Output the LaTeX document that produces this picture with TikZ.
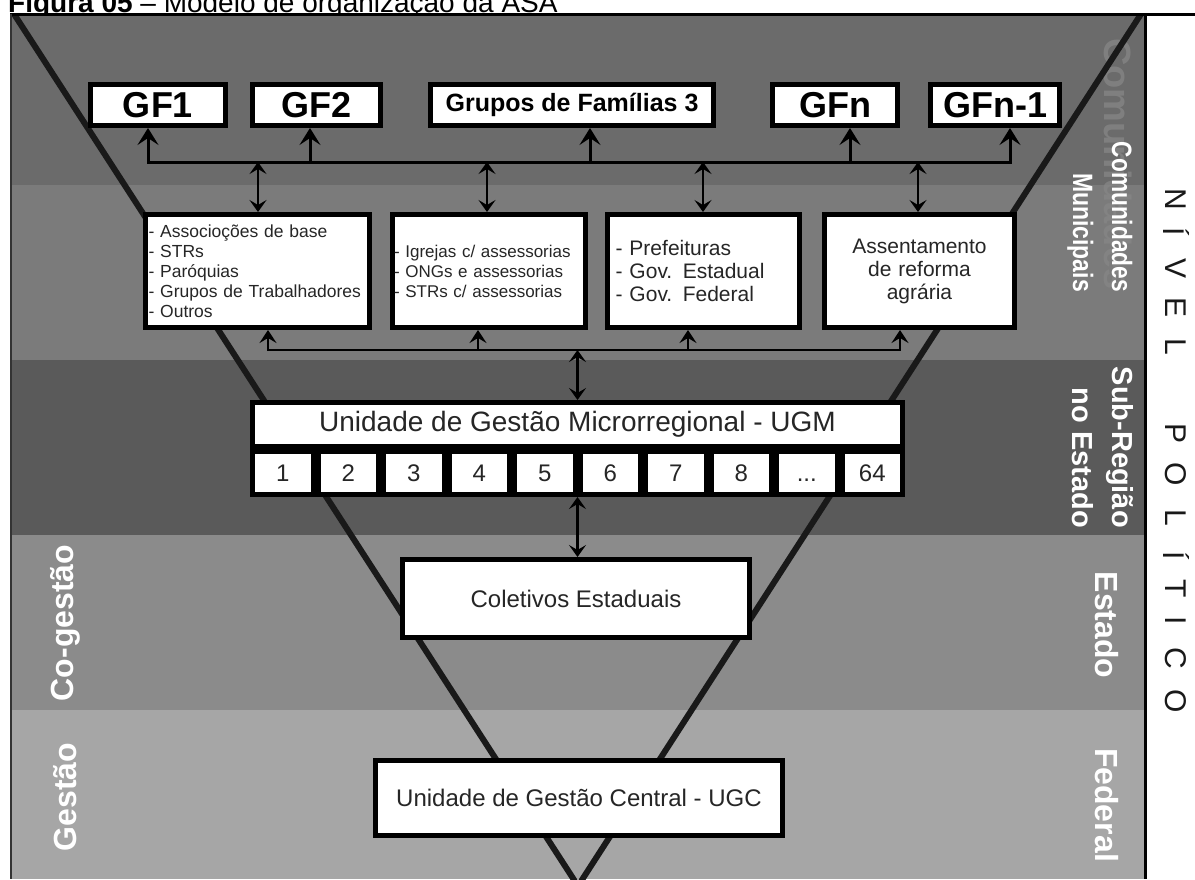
\documentclass[tikz,border=0pt]{standalone}
\usepackage{fontspec}
\setmainfont{Liberation Sans}
\usetikzlibrary{arrows.meta}
\definecolor{bandA}{HTML}{6B6B6B}
\definecolor{bandB}{HTML}{7B7B7B}
\definecolor{bandC}{HTML}{5A5A5A}
\definecolor{bandD}{HTML}{8B8B8B}
\definecolor{bandE}{HTML}{A6A6A6}
\definecolor{ink}{HTML}{262626}
\definecolor{ghostc}{HTML}{858585}
\newcommand\fsz[2]{\fontsize{#1pt}{#2pt}\selectfont}
\newcommand\threedots{...}
\begin{document}
\begin{tikzpicture}[x=1pt,y=-1pt,
  wbox/.style={draw=black, line width=5pt, fill=white, text=ink, inner sep=0pt},
  gfbox/.style={wbox, minimum height=41pt, font=\fsz{36}{40}\bfseries, text=black},
  listbox/.style={wbox, minimum height=113pt},
  ugmcell/.style={wbox, minimum width=60.5pt, minimum height=43pt, font=\fsz{24}{28}},
  lab/.style={text=white, inner sep=0pt},
  rlab/.style={lab, rotate=-90, anchor=base east},
  nivel/.style={rotate=-90, font=\fsz{30}{34}, text=black!90, inner sep=0pt},
  vline/.style={line width=6pt, draw=black!90},
  gbus/.style={line width=3pt, {Stealth[length=17pt,width=21pt,inset=7pt]}-{Stealth[length=17pt,width=21pt,inset=7pt]}},
  garrow/.style={line width=3pt, -{Stealth[length=17pt,width=21pt,inset=7pt]}},
  dbl/.style={line width=2.2pt, {Stealth[length=12pt,width=17pt,inset=5pt]}-{Stealth[length=12pt,width=17pt,inset=5pt]}},
  lbus/.style={line width=2.2pt, {Stealth[length=13pt,width=17pt,inset=5pt]}-{Stealth[length=13pt,width=17pt,inset=5pt]}},
  larrow/.style={line width=2.2pt, -{Stealth[length=13pt,width=17pt,inset=5pt]}}
]
\useasboundingbox (0,0) rectangle (1195,879);
% caption (cut at the top edge, as in the original)
\node[anchor=base west, inner sep=0pt, font=\fsz{28}{32}] (cap) at (8,12) {\textbf{Figura 05} -- Modelo de organização da ASA};
% bands
\fill[bandA] (11,14) rectangle (1145,185);
\fill[bandB] (11,185) rectangle (1145,360);
\fill[bandC] (11,360) rectangle (1145,535);
\fill[bandD] (11,535) rectangle (1145,710);
\fill[bandE] (11,710) rectangle (1145,879);
% ghost text
\node[rotate=-90, anchor=base west, inner sep=0pt, font=\fsz{38}{40}\bfseries, text=ghostc, opacity=0.8] (ghost) at (1104,38) {Comunidades};
% funnel
\coordinate (vl) at (14,14);
\coordinate (vr) at (1141,14);
\coordinate (vapex) at (578,886);
\begin{scope}
\clip (11,14) rectangle (1145,879);
\draw[vline] (vl) -- (vapex) -- (vr);
\end{scope}
% frame
\draw[line width=3pt] (10,14) -- (1195,14);
\draw[line width=2pt, draw=black!80] (11,14) -- (11,879);
\draw[line width=3pt] (1145,14) -- (1145,879);
% GF row
\node[gfbox, minimum width=135pt] (gf1) at (158,105) {GF1};
\node[gfbox, minimum width=128pt] (gf2) at (316.5,105) {GF2};
\node[gfbox, minimum width=283pt, font=\fsz{25}{29}\bfseries] (gf3) at (572,105) {Grupos de Famílias 3};
\node[gfbox, minimum width=125pt] (gfn) at (835,105) {GFn};
\node[gfbox, minimum width=129pt] (gfn1) at (995,105) {GFn-1};
% second row
\node[listbox, minimum width=224pt, text width=218pt, align=left, font=\fsz{17.5}{20}] (ass) at (257.5,271) {- Associoções de base\\- STRs\\- Paróquias\\- Grupos de Trabalhadores\\- Outros};
\node[listbox, minimum width=193pt, text width=190pt, align=left, font=\fsz{17}{20}] (igr) at (489,271) {- Igrejas c/ assessorias\\- ONGs e assessorias\\- STRs c/ assessorias};
\node[listbox, minimum width=192pt, text width=176pt, align=left, font=\fsz{21}{23}] (pre) at (703.5,271) {- Prefeituras\\- Gov. Estadual\\- Gov. Federal};
\node[listbox, minimum width=190pt, text width=182pt, align=center, font=\fsz{21}{23}] (ase) at (919.5,271) {Assentamento\\de reforma\\agrária};
% UGM
\node[wbox, minimum width=650pt, minimum height=44pt, font=\fsz{28}{32}] (ugm) at (577.5,424.5) {Unidade de Gestão Microrregional - UGM};
\foreach \t [count=\i] in {1,2,3,4,5,6,7,8,\threedots,64}
  \node[ugmcell] (c\i) at ({250+65.5*(\i-0.5)},473) {\vphantom{8}\t};
% lower boxes
\node[wbox, minimum width=347pt, minimum height=78pt, font=\fsz{24}{28}] (col) at (576,598.5) {Coletivos Estaduais};
\node[wbox, minimum width=407pt, minimum height=75pt, font=\fsz{24}{28}] (ugc) at (579,798) {Unidade de Gestão Central - UGC};
% upper bus
\coordinate (b1) at (148,162);
\coordinate (b2) at (310,162);
\coordinate (b3) at (590,162);
\coordinate (b4) at (850,162);
\coordinate (b5) at (1010,162);
\draw[gbus] (gf1.south -| b1) -- (b1) -- (b5) -- (gfn1.south -| b5);
\draw[garrow] (b2) -- (gf2.south -| b2);
\draw[garrow] (b3) -- (gf3.south -| b3);
\draw[garrow] (b4) -- (gfn.south -| b4);
\coordinate (d1) at (258,162);
\coordinate (d2) at (487,162);
\coordinate (d3) at (703,162);
\coordinate (d4) at (918,162);
\draw[dbl] (d1) -- (ass.north -| d1);
\draw[dbl] (d2) -- (igr.north -| d2);
\draw[dbl] (d3) -- (pre.north -| d3);
\draw[dbl] (d4) -- (ase.north -| d4);
% lower bus
\coordinate (l1) at (268,350);
\coordinate (l2) at (478,350);
\coordinate (l3) at (688,350);
\coordinate (l4) at (900,350);
\coordinate (lm) at (577.5,350);
\draw[lbus] (ass.south -| l1) -- (l1) -- (l4) -- (ase.south -| l4);
\draw[larrow] (l2) -- (igr.south -| l2);
\draw[larrow] (l3) -- (pre.south -| l3);
\draw[dbl] (lm) -- (ugm.north -| lm);
\draw[dbl] (c5.south east) -- (col.north -| c5.south east);
% side labels
\node[rlab, font=\fsz{28}{30}\bfseries] (com) at (1112,292) {\scalebox{0.81}[1]{Comunidades}};
\node[rlab, font=\fsz{28}{30}\bfseries] (mun) at (1073,292) {\scalebox{0.82}[1]{Municipais}};
\node[rlab, font=\fsz{29}{32}\bfseries] (sub) at (1112,528) {Sub-Região};
\node[rlab, font=\fsz{29}{32}\bfseries] (noe) at (1072,528) {no Estado};
\node[lab, rotate=-90, font=\fsz{32}{36}\bfseries] (est) at (1107,625) {Estado};
\node[lab, rotate=-90, font=\fsz{32}{36}\bfseries] (fed) at (1107,805) {Federal};
\node[lab, rotate=90, font=\fsz{32}{36}\bfseries] (cog) at (65,623) {Co-gestão};
\node[lab, rotate=90, font=\fsz{32}{36}\bfseries] (ges) at (65,797) {Gestão};
% NIVEL POLITICO
\foreach \ch/\yy [count=\k] in {N/199,Í/232,V/268,E/307,L/347,P/433,O/474,L/518,Í/556,T/589,I/621,C/658,O/701}
  \node[nivel] (niv\k) at (1176,\yy) {\ch};
\end{tikzpicture}
\end{document}
